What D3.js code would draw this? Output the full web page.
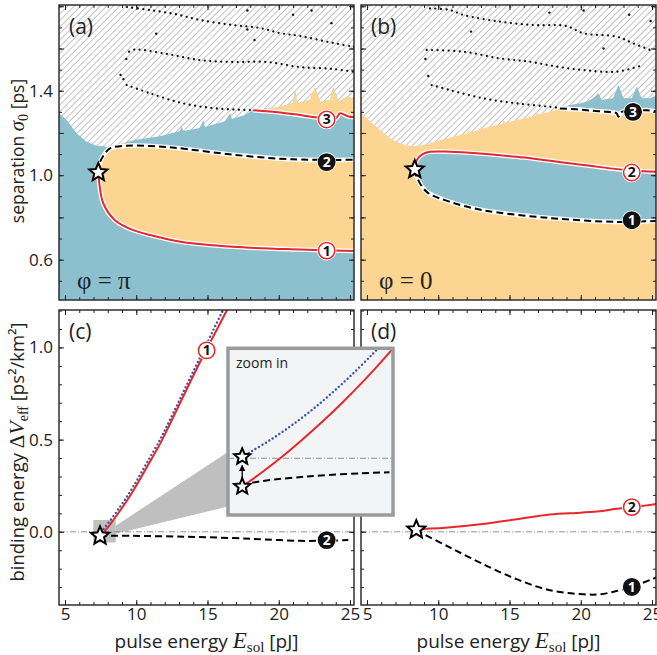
<!DOCTYPE html>
<html>
<head>
<meta charset="utf-8">
<script src="https://cdnjs.cloudflare.com/ajax/libs/d3/7.8.5/d3.min.js"></script>
<style>
  body { margin: 0; background: #fff; }
  svg { display: block; font-family: "Open Sans", sans-serif; }
</style>
</head>
<body>
<svg id="fig" width="657" height="655"></svg>
<script>
// ---- axes ----
var xDomain = [4.58, 25.28];          // pulse energy E_sol [pJ]
var sepDomain = [0.409, 1.806];       // separation sigma0 [ps]
var bindDomain = [-0.397, 1.203];     // binding energy [ps^2/km^2]
var xTickLabels = [5, 10, 15, 20, 25];
var sepTickLabels = [0.6, 1.0, 1.4];
var bindTickLabels = [0.0, 0.5, 1.0];

// ---- panel (a): phi = pi, points are [E, sigma0] ----
var aStar = [7.34, 1.013];
var aCurve1 = [[7.34,1.013],[7.41,0.961],[7.69,0.866],[8.51,0.787],[9.79,0.740],[11.7,0.705],[13.1,0.685],[16.8,0.661],[21.5,0.648],[25.4,0.641]];
var aCurve2 = [[7.34,1.013],[7.46,1.063],[7.81,1.103],[8.16,1.127],[9.33,1.140],[11.0,1.138],[12.7,1.130],[16.8,1.097],[21.0,1.075],[25.4,1.073]];
var aCurve3 = [[18.2,1.308],[20.1,1.297],[21.3,1.287],[22.4,1.276],[23.4,1.270],[24.0,1.268],[24.3,1.293],[24.9,1.278],[25.4,1.275]];
var aEdge = [[4.5,1.300],[5.12,1.261],[5.82,1.198],[6.52,1.158],[7.22,1.139],[8.16,1.134],[9.79,1.166],[11.67,1.185],[13.07,1.209],[13.19,1.232],[13.3,1.209],[14.47,1.223],[14.7,1.261],[14.82,1.228],[16.23,1.256],[16.58,1.293],[16.72,1.266],[17.63,1.285],[18.2,1.308],[19.86,1.321],[20.56,1.332],[21.0,1.342],[21.14,1.403],[21.28,1.342],[22.19,1.356],[22.54,1.416],[22.89,1.348],[23.6,1.356],[23.83,1.416],[24.18,1.348],[24.77,1.371],[25.23,1.364],[25.4,1.364]];
var aDots = [
  [[9.33,1.427],[10.96,1.388],[13.3,1.340],[15.65,1.316],[18.2,1.308]],
  [[9.5,1.585],[9.9,1.595],[12.16,1.574],[14.47,1.545],[16.79,1.536],[19.18,1.536],[21.49,1.512],[23.81,1.503],[25.3,1.489]],
  [[9.35,1.796],[10.96,1.782],[12.72,1.763],[14.47,1.735],[16.79,1.711],[18.68,1.697],[20.09,1.673],[21.49,1.659],[23.81,1.626],[25.3,1.607]]
];
var aSpecks = [[8.9,1.475],[9.1,1.455],[9.3,1.55],[11.4,1.67],[17.8,1.78],[17.8,1.69],[18.3,1.64],[21.0,1.76],[22.3,1.78],[23.7,1.72]];
var aLabels = [[23.36,0.643,"1",false],[23.36,1.062,"2",true],[23.36,1.264,"3",false]];

// ---- panel (b): phi = 0 ----
var bStar = [8.35, 1.027];
var bCurve1 = [[8.35,1.027],[8.49,0.992],[9.19,0.921],[10.82,0.874],[13.16,0.834],[17.84,0.797],[22.5,0.779],[25.4,0.784]];
var bCurve2 = [[8.35,1.027],[8.49,1.071],[8.9,1.100],[9.42,1.111],[10.8,1.111],[15.5,1.087],[20.2,1.048],[23.7,1.021],[25.4,1.016]];
var bCurve3 = [[18.54,1.316],[19.72,1.312],[20.88,1.305],[21.82,1.300],[22.52,1.293],[22.64,1.277],[22.87,1.300],[23.7,1.304],[24.63,1.308],[25.4,1.300]];
var bEdge = [[4.5,1.300],[5.2,1.255],[5.68,1.229],[6.3,1.19],[6.85,1.166],[7.5,1.147],[8.02,1.139],[8.6,1.140],[9.19,1.147],[10.82,1.179],[12.0,1.198],[12.1,1.215],[12.2,1.200],[13.16,1.222],[14.5,1.245],[14.6,1.262],[14.7,1.248],[15.5,1.261],[16.8,1.282],[16.9,1.300],[17.0,1.288],[17.84,1.300],[18.54,1.316],[19.25,1.332],[19.95,1.340],[20.42,1.348],[20.88,1.364],[21.23,1.388],[21.47,1.356],[22.28,1.364],[22.64,1.427],[22.99,1.364],[23.58,1.364],[23.93,1.419],[24.28,1.364],[24.86,1.364],[25.4,1.380]];
var bDots = [
  [[9.54,1.427],[10.82,1.403],[13.16,1.364],[15.5,1.340],[17.84,1.324],[18.54,1.318]],
  [[9.19,1.593],[11.76,1.585],[14.33,1.553],[16.44,1.537],[18.31,1.514],[20.18,1.498],[22.52,1.490],[24.39,1.522]],
  [[9.42,1.790],[10.82,1.782],[11.76,1.759],[14.33,1.727],[16.67,1.711],[19.01,1.706],[20.18,1.672],[22.52,1.656],[23.69,1.624],[24.86,1.593]]
];
var bSpecks = [[9.3,1.47],[9.1,1.55],[12.3,1.68],[17.8,1.77],[20.2,1.78],[21.6,1.60],[23.4,1.76],[24.9,1.73]];
var bLabels = [[23.58,0.787,"1",true],[23.58,1.013,"2",false],[23.67,1.300,"3",true]];

// ---- panel (c): binding energy, phi = pi ----
var cStar = [7.46, -0.022];
var cCurve1 = [[7.46,-0.022],[7.81,0.005],[8.86,0.114],[9.79,0.223],[10.73,0.349],[11.67,0.477],[12.14,0.549],[14.47,0.920],[16.35,1.200],[16.6,1.24]];
var cCurve1Approx = [[7.52,0.0],[7.81,0.025],[8.86,0.135],[9.79,0.245],[10.73,0.372],[11.67,0.500],[12.14,0.572],[14.47,0.945],[16.2,1.22],[16.4,1.25]];
var cCurve2 = [[7.46,-0.022],[9.79,-0.022],[13.5,-0.027],[16.81,-0.034],[19.0,-0.041],[21.49,-0.049],[23.4,-0.048],[24.88,-0.045]];
var cZoomBox = [[6.99,-0.058],[8.56,0.064]];
var cLabels = [[14.94,0.984,"1",false],[23.36,-0.045,"2",true]];

// inset ("zoom in") of panel (c) near the star
var insetX = [7.38, 8.31];
var insetY = [-0.04, 0.0775];
var insetCurve1 = [[7.457,-0.0201],[7.504,-0.016],[7.570,-0.010],[7.683,0.0009],[7.795,0.0127],[7.908,0.0253],[8.021,0.0388],[8.134,0.0531],[8.246,0.0683],[8.314,0.0779]];
var insetApprox = [[7.457,0.0011],[7.514,0.0050],[7.626,0.0135],[7.739,0.0232],[7.852,0.0339],[7.964,0.0458],[8.077,0.0588],[8.190,0.0728],[8.246,0.0803]];
var insetCurve2 = [[7.46,-0.020],[7.505,-0.0176],[7.81,-0.013],[8.13,-0.0106],[8.29,-0.0099]];
var insetStars = [[7.46,-0.020],[7.46,0.001]];

// ---- panel (d): binding energy, phi = 0 ----
var dStar = [8.46, 0.012];
var dCurve2 = [[8.46,0.012],[8.81,0.015],[10.5,0.022],[13.13,0.042],[15.5,0.068],[17.84,0.094],[20.0,0.104],[21.35,0.112],[22.52,0.125],[23.2,0.131],[24.3,0.140],[25.4,0.152]];
var dCurve1 = [[8.46,0.012],[8.8,-0.005],[10.82,-0.085],[13.16,-0.176],[15.5,-0.257],[17.84,-0.317],[20.18,-0.339],[21.35,-0.339],[22.52,-0.321],[23.58,-0.299],[25.0,-0.257],[25.4,-0.245]];
var dLabels = [[23.58,0.134,"2",false],[23.58,-0.299,"1",true]];

// ---------------------------------------------------------------
var W = 295, H = 295;
var RED = "#e8262b", BLUE_FILL = "#8cc0cf", ORANGE_FILL = "#fdd593", DOTBLUE = "#3654b0";

var svg = d3.select("#fig");
var defs = svg.append("defs");

var hatch = defs.append("pattern").attr("id", "hatch")
  .attr("patternUnits", "userSpaceOnUse")
  .attr("width", 4.6).attr("height", 4.6)
  .attr("patternTransform", "rotate(45)");
hatch.append("rect").attr("width", 4.6).attr("height", 4.6).attr("fill", "#fff");
hatch.append("line").attr("x1", 2.3).attr("x2", 2.3).attr("y1", 0).attr("y2", 4.6)
  .attr("stroke", "#b4b4b4").attr("stroke-width", 0.8);

var x = d3.scaleLinear().domain(xDomain).range([0, W]);
var ySep = d3.scaleLinear().domain(sepDomain).range([H, 0]);
var yBind = d3.scaleLinear().domain(bindDomain).range([H, 0]);
// inset scales, in page pixels
var ix = d3.scaleLinear().domain(insetX).range([228, 393]);
var iy = d3.scaleLinear().domain(insetY).range([515, 348.3]);

function smoothLine(y) {
  return d3.line().x(function(d) { return x(d[0]); }).y(function(d) { return y(d[1]); })
    .curve(d3.curveCatmullRom.alpha(0.5));
}
function straightLine(y) {
  return d3.line().x(function(d) { return x(d[0]); }).y(function(d) { return y(d[1]); });
}

// a closed shape between two curves that share their first point
function between(line, upper, lower) {
  return line(upper) + line(lower.slice().reverse()).replace(/^M/, "L") + "Z";
}

function starPath(R) {
  var pts = [];
  for (var i = 0; i < 10; i++) {
    var r = i % 2 ? R * 0.45 : R;
    var a = -Math.PI / 2 + i * Math.PI / 5;
    pts.push([r * Math.cos(a), r * Math.sin(a)]);
  }
  return "M" + pts.join("L") + "Z";
}

function drawStar(g, px, py, R) {
  g.append("path").attr("d", starPath(R))
    .attr("transform", "translate(" + px + "," + py + ")")
    .attr("fill", "#fff").attr("stroke", "#000").attr("stroke-width", 2)
    .attr("stroke-linejoin", "miter");
}

function curveLabel(g, px, py, n, filled) {
  g.append("circle").attr("cx", px).attr("cy", py).attr("r", 9.8).attr("fill", "#fff");
  g.append("circle").attr("cx", px).attr("cy", py).attr("r", 8.2)
    .attr("fill", filled ? "#111" : "#fff")
    .attr("stroke", filled ? "#111" : RED).attr("stroke-width", 1.5);
  g.append("text").attr("x", px).attr("y", py + 5).attr("text-anchor", "middle")
    .attr("font-size", 14).attr("font-weight", "bold")
    .attr("fill", filled ? "#fff" : "#111").text(n);
}

// draws a curve, optionally with a white halo underneath
function drawCurve(g, path, kind, halo) {
  if (halo) {
    g.append("path").attr("d", path).attr("fill", "none")
      .attr("stroke", "#fff").attr("stroke-width", 4.6);
  }
  var p = g.append("path").attr("d", path).attr("fill", "none");
  if (kind === "red") {
    p.attr("stroke", RED).attr("stroke-width", 2);
  } else if (kind === "dash") {
    p.attr("stroke", "#000").attr("stroke-width", 2).attr("stroke-dasharray", "7,4");
  } else if (kind === "dots") {
    p.attr("stroke", DOTBLUE).attr("stroke-width", 2.4)
      .attr("stroke-dasharray", "0,4").attr("stroke-linecap", "round");
  }
  return p;
}

function makePanel(id, x0, y0) {
  var g = svg.append("g").attr("transform", "translate(" + x0 + "," + y0 + ")");
  defs.append("clipPath").attr("id", "clip-" + id)
    .append("rect").attr("width", W).attr("height", H);
  var body = g.append("g").attr("clip-path", "url(#clip-" + id + ")");
  return { g: g, body: body, x0: x0, y0: y0 };
}

function tenths(lo, hi) { return d3.range(lo, hi + 1).map(function(v) { return v / 10; }); }

function drawAxes(p, y, yMinor, yMajor, yLabels, showX, showY) {
  var fmt = d3.format(".1f");
  var xMinor = d3.range(5, 26);
  var axes = [
    { ax: d3.axisBottom(x), tr: "translate(0," + H + ")", minor: xMinor, major: xTickLabels, labels: showX ? xTickLabels : [], f: d3.format("d"), pad: 3 },
    { ax: d3.axisTop(x), tr: null, minor: xMinor, major: xTickLabels, labels: [], f: d3.format("d"), pad: 3 },
    { ax: d3.axisLeft(y), tr: null, minor: yMinor, major: yMajor, labels: showY ? yLabels : [], f: fmt, pad: 6 },
    { ax: d3.axisRight(y), tr: "translate(" + W + ",0)", minor: yMinor, major: yMajor, labels: [], f: fmt, pad: 6 }
  ];
  axes.forEach(function(a) {
    var gm = p.g.append("g").call(a.ax.tickValues(a.minor).tickSize(-3).tickFormat(""));
    if (a.tr) gm.attr("transform", a.tr);
    gm.select(".domain").remove();
    var gM = p.g.append("g").call(a.ax.tickValues(a.major).tickSize(-5).tickPadding(a.pad)
      .tickFormat(function(d) {
        return a.labels.some(function(l) { return Math.abs(l - d) < 1e-9; }) ? a.f(d) : "";
      }));
    if (a.tr) gM.attr("transform", a.tr);
    gM.select(".domain").remove();
    gM.selectAll("text").attr("font-family", "Open Sans").attr("font-size", 17).attr("fill", "#222");
  });
  p.g.selectAll(".tick line").attr("stroke", "#222").attr("stroke-width", 1);
  p.g.append("rect").attr("width", W).attr("height", H)
    .attr("fill", "none").attr("stroke", "#222").attr("stroke-width", 1.4);
}

function panelLetter(p, s) {
  p.g.append("text").attr("x", 10).attr("y", 29).attr("font-size", 21).attr("fill", "#222").text(s);
}

function phaseText(p, s) {
  p.g.append("text").attr("x", 18).attr("y", 284)
    .attr("font-family", "Liberation Serif, serif").attr("font-size", 25).attr("fill", "#222").text(s);
}

// ---------------- panels (a) and (b) ----------------
function existencePanel(p, star, c1, c2, c3, edge, dots, specks, labels, c1kind, c2kind, c3kind, lowFill, bulbFill) {
  var sl = smoothLine(ySep), ln = straightLine(ySep);
  var topFill = lowFill === BLUE_FILL ? ORANGE_FILL : BLUE_FILL;
  p.body.append("rect").attr("width", W).attr("height", H).attr("fill", "url(#hatch)");
  var area = d3.area().x(function(d) { return x(d[0]); })
    .y0(ySep(sepDomain[0])).y1(function(d) { return ySep(d[1]); });
  p.body.append("path").attr("d", area(edge)).attr("fill", lowFill);
  // strip between the outer edge and branch 3
  var strip = edge.filter(function(d) { return d[0] >= c3[0][0] - 1e-9; });
  p.body.append("path").attr("d", ln(strip) + sl(c3.slice().reverse()).replace(/^M/, "L") + "Z")
    .attr("fill", topFill);
  // bulb between branches 1 and 2
  p.body.append("path").attr("d", between(sl, c2, c1)).attr("fill", bulbFill);

  dots.forEach(function(d) {
    p.body.append("path").attr("d", sl(d)).attr("fill", "none")
      .attr("stroke", "#111").attr("stroke-width", 2.3)
      .attr("stroke-dasharray", "0,5.5").attr("stroke-linecap", "round");
  });
  p.body.selectAll(".speck").data(specks).enter().append("circle")
    .attr("cx", function(d) { return x(d[0]); }).attr("cy", function(d) { return ySep(d[1]); })
    .attr("r", 1.2).attr("fill", "#111");

  drawCurve(p.body, sl(c3), c3kind, true);
  drawCurve(p.body, sl(c2), c2kind, true);
  drawCurve(p.body, sl(c1), c1kind, true);
  labels.forEach(function(l) { curveLabel(p.body, x(l[0]), ySep(l[1]), l[2], l[3]); });
  drawStar(p.body, x(star[0]), ySep(star[1]), 9.5);
}

var pa = makePanel("a", 59, 5);
existencePanel(pa, aStar, aCurve1, aCurve2, aCurve3, aEdge, aDots, aSpecks, aLabels,
  "red", "dash", "red", BLUE_FILL, ORANGE_FILL);
panelLetter(pa, "(a)");
phaseText(pa, "\u03c6 = \u03c0");
drawAxes(pa, ySep, tenths(5, 18), [0.6, 0.8, 1.0, 1.2, 1.4, 1.6, 1.8], sepTickLabels, false, true);

var pb = makePanel("b", 361, 5);
existencePanel(pb, bStar, bCurve1, bCurve2, bCurve3, bEdge, bDots, bSpecks, bLabels,
  "dash", "red", "dash", ORANGE_FILL, BLUE_FILL);
panelLetter(pb, "(b)");
phaseText(pb, "\u03c6 = 0");
drawAxes(pb, ySep, tenths(5, 18), [0.6, 0.8, 1.0, 1.2, 1.4, 1.6, 1.8], sepTickLabels, false, false);

// ---------------- panels (c) and (d) ----------------
var sb = smoothLine(yBind);

function zeroLine(p) {
  p.body.append("line").attr("x1", 0).attr("x2", W)
    .attr("y1", yBind(0)).attr("y2", yBind(0))
    .attr("stroke", "#777").attr("stroke-width", 0.8).attr("stroke-dasharray", "6,2,1,2");
}

var pc = makePanel("c", 59, 310);
pc.body.append("rect")
  .attr("x", x(cZoomBox[0][0])).attr("y", yBind(cZoomBox[1][1]))
  .attr("width", x(cZoomBox[1][0]) - x(cZoomBox[0][0]))
  .attr("height", yBind(cZoomBox[0][1]) - yBind(cZoomBox[1][1]))
  .attr("fill", "#bfbfbf");
// grey wedge from the small box to the inset (inset scales are page pixels)
var bx = x(cZoomBox[1][0]);
pc.body.append("path")
  .attr("d", "M" + bx + "," + yBind(0.033) +
    "L" + (ix.range()[0] - pc.x0) + "," + (iy(0.0044) - pc.y0) +
    "L" + (ix.range()[0] - pc.x0) + "," + (iy(-0.034) - pc.y0) +
    "L" + bx + "," + yBind(-0.011) + "Z")
  .attr("fill", "#bfbfbf");
zeroLine(pc);
drawCurve(pc.body, sb(cCurve2), "dash", false);
drawCurve(pc.body, sb(cCurve1Approx), "dots", false);
drawCurve(pc.body, sb(cCurve1), "red", false);
cLabels.forEach(function(l) { curveLabel(pc.body, x(l[0]), yBind(l[1]), l[2], l[3]); });
drawStar(pc.body, x(cStar[0]), yBind(cStar[1]), 9.5);
panelLetter(pc, "(c)");
drawAxes(pc, yBind, tenths(-3, 12), [0.0, 0.5, 1.0], bindTickLabels, true, true);

var pd = makePanel("d", 361, 310);
zeroLine(pd);
drawCurve(pd.body, sb(dCurve1), "dash", false);
drawCurve(pd.body, sb(dCurve2), "red", false);
dLabels.forEach(function(l) { curveLabel(pd.body, x(l[0]), yBind(l[1]), l[2], l[3]); });
drawStar(pd.body, x(dStar[0]), yBind(dStar[1]), 9.5);
panelLetter(pd, "(d)");
drawAxes(pd, yBind, tenths(-3, 12), [0.0, 0.5, 1.0], bindTickLabels, true, false);

// ---------------- inset ----------------
var il = d3.line().x(function(d) { return ix(d[0]); }).y(function(d) { return iy(d[1]); })
  .curve(d3.curveCatmullRom.alpha(0.5));

var inset = svg.append("g");
defs.append("clipPath").attr("id", "clip-inset").append("rect")
  .attr("x", ix.range()[0]).attr("y", iy.range()[1])
  .attr("width", ix.range()[1] - ix.range()[0]).attr("height", iy.range()[0] - iy.range()[1]);
inset.append("rect")
  .attr("x", ix.range()[0]).attr("y", iy.range()[1])
  .attr("width", ix.range()[1] - ix.range()[0]).attr("height", iy.range()[0] - iy.range()[1])
  .attr("fill", "#f3f4f6");
var ib = inset.append("g").attr("clip-path", "url(#clip-inset)");
ib.append("line").attr("x1", ix.range()[0]).attr("x2", ix.range()[1])
  .attr("y1", iy(0)).attr("y2", iy(0))
  .attr("stroke", "#777").attr("stroke-width", 0.8).attr("stroke-dasharray", "6,2,1,2");
drawCurve(ib, il(insetCurve2), "dash", false);
drawCurve(ib, il(insetApprox), "dots", false);
drawCurve(ib, il(insetCurve1), "red", false);

defs.append("marker").attr("id", "arrow").attr("viewBox", "0 0 10 10")
  .attr("refX", 8).attr("refY", 5).attr("markerWidth", 5).attr("markerHeight", 5)
  .attr("orient", "auto")
  .append("path").attr("d", "M0,0L10,5L0,10Z").attr("fill", "#000");
ib.append("line")
  .attr("x1", ix(insetStars[0][0])).attr("x2", ix(insetStars[1][0]))
  .attr("y1", iy(insetStars[0][1]) - 8).attr("y2", iy(insetStars[1][1]) + 9)
  .attr("stroke", "#000").attr("stroke-width", 1.3).attr("marker-end", "url(#arrow)");
insetStars.forEach(function(s) { drawStar(ib, ix(s[0]), iy(s[1]), 8.5); });

ib.append("text").attr("x", ix.range()[0] + 8).attr("y", iy.range()[1] + 20)
  .attr("font-size", 14).attr("fill", "#222").text("zoom in");
inset.append("rect")
  .attr("x", ix.range()[0]).attr("y", iy.range()[1])
  .attr("width", ix.range()[1] - ix.range()[0]).attr("height", iy.range()[0] - iy.range()[1])
  .attr("fill", "none").attr("stroke", "#9b9b9b").attr("stroke-width", 3.5);

// ---------------- axis titles ----------------
function mathItalic(t, s, size) {
  t.append("tspan").attr("font-family", "Liberation Serif, serif").attr("font-style", "italic")
    .attr("font-size", size).text(s);
}
function mathSub(t, s, size) {
  t.append("tspan").attr("font-family", "Liberation Serif, serif").attr("font-size", size)
    .attr("dy", 4).text(s);
}

var t1 = svg.append("text").attr("transform", "translate(24," + (pa.y0 + 146) + ") rotate(-90)")
  .attr("text-anchor", "middle").attr("font-size", 17.5).attr("fill", "#222");
t1.append("tspan").text("separation ");
mathItalic(t1, "\u03c3", 21);
mathSub(t1, "0", 14);
t1.append("tspan").attr("dy", -4).text(" [ps]");

var t2 = svg.append("text").attr("transform", "translate(24," + (pc.y0 + 142) + ") rotate(-90)")
  .attr("text-anchor", "middle").attr("font-size", 18.5).attr("fill", "#222");
t2.append("tspan").text("binding energy ");
t2.append("tspan").attr("font-family", "Liberation Serif, serif").attr("font-size", 21).text("\u0394");
mathItalic(t2, "V", 22);
mathSub(t2, "eff", 14);
t2.append("tspan").attr("dy", -4).text("  [ps\u00b2/km\u00b2]");

[pc, pd].forEach(function(p) {
  var t = svg.append("text").attr("x", p.x0 + W / 2).attr("y", 648)
    .attr("text-anchor", "middle").attr("font-size", 19).attr("fill", "#222");
  t.append("tspan").text("pulse energy ");
  mathItalic(t, "E", 23);
  mathSub(t, "sol", 15);
  t.append("tspan").attr("dy", -4).text("  [pJ]");
});
</script>
</body>
</html>
